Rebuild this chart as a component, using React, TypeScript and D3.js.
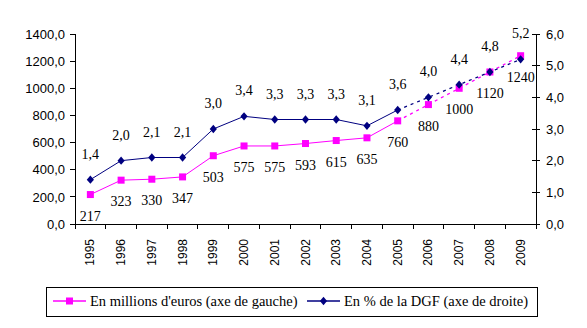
import React from "react";
import * as d3 from "d3";

const years = ["1995","1996","1997","1998","1999","2000","2001","2002","2003","2004","2005","2006","2007","2008","2009"];
const euros = [217,323,330,347,503,575,575,593,615,635,760,880,1000,1120,1240];
const pct = [1.4,2.0,2.1,2.1,3.0,3.4,3.3,3.3,3.3,3.1,3.6,4.0,4.4,4.8,5.2];
const leftTicks = [0,200,400,600,800,1000,1200,1400];
const rightTicks = [0,1,2,3,4,5,6];
const solidUntil = 10; // index of 2005
const legendLabels = ["En millions d'euros (axe de gauche)", "En % de la DGF (axe de droite)"];

const W = 587, H = 328;
const left = 75, right = 536, top = 34, bottom = 224;
const MAG = "#FF00FF", NAVY = "#000080";
const SANS = "Liberation Sans";
const SERIF = "Liberation Serif";

const fmt = (v: number, d: number) => v.toFixed(d).replace(".", ",");

export default function App() {
  const x = d3.scaleBand<string>().domain(years).range([left, right]).paddingInner(0).paddingOuter(0);
  const cx = (i: number) => (x(years[i]) as number) + x.bandwidth() / 2;
  const yL = d3.scaleLinear().domain([0, 1400]).range([bottom, top]);
  const yR = d3.scaleLinear().domain([0, 6]).range([bottom, top]);

  const idx = years.map((_, i) => i);
  const lineL = d3.line<number>().x((i) => cx(i)).y((i) => yL(euros[i]));
  const lineR = d3.line<number>().x((i) => cx(i)).y((i) => yR(pct[i]));
  const solid = idx.filter((i) => i <= solidUntil);
  const dashed = idx.filter((i) => i >= solidUntil);

  const bounds = d3.range(years.length + 1).map((k) => left + k * x.bandwidth());
  const serif = { fontFamily: SERIF, fontSize: "14px" } as React.CSSProperties;
  const legendFont = { fontFamily: SERIF, fontSize: "14.5px" } as React.CSSProperties;
  const sans = (s: number) => ({ fontFamily: SANS, fontSize: s + "px" } as React.CSSProperties);

  return (
    <svg width={W} height={H} style={{ position: "absolute", left: 0, top: 0, background: "#fff" }}>
      <rect x={0} y={0} width={W} height={H} fill="#fff" />
      <line x1={left} y1={top} x2={left} y2={bottom} stroke="#000" strokeWidth={1} shapeRendering="crispEdges" />
      <line x1={right} y1={top} x2={right} y2={bottom} stroke="#000" strokeWidth={1} shapeRendering="crispEdges" />
      <line x1={left} y1={bottom} x2={right} y2={bottom} stroke="#000" strokeWidth={1} shapeRendering="crispEdges" />
      {leftTicks.map((t) => (
        <g key={"l" + t}>
          <line x1={left - 5} x2={left} y1={yL(t)} y2={yL(t)} stroke="#000" shapeRendering="crispEdges" />
          <text x={left - 10} y={yL(t)} dy="0.36em" textAnchor="end" style={sans(13)}>{fmt(t, 1)}</text>
        </g>
      ))}
      {rightTicks.map((t) => (
        <g key={"r" + t}>
          <line x1={right - 4} x2={right + 4} y1={yR(t)} y2={yR(t)} stroke="#000" shapeRendering="crispEdges" />
          <text x={right + 10} y={yR(t)} dy="0.36em" textAnchor="start" style={sans(13)}>{fmt(t, 1)}</text>
        </g>
      ))}
      {bounds.map((b, k) => (
        <line key={"b" + k} x1={b} x2={b} y1={bottom} y2={bottom + 5} stroke="#000" shapeRendering="crispEdges" />
      ))}
      {years.map((yr, i) => (
        <text key={yr} transform={`translate(${cx(i) + 4},${bottom + 15}) rotate(-90)`} textAnchor="end" style={sans(12)}>{yr}</text>
      ))}

      <path d={lineL(solid) || ""} fill="none" stroke={MAG} strokeWidth={1} />
      <path d={lineL(dashed) || ""} fill="none" stroke={MAG} strokeWidth={1.3} strokeDasharray="3,4" />
      <path d={lineR(solid) || ""} fill="none" stroke={NAVY} strokeWidth={1} />
      <path d={lineR(dashed) || ""} fill="none" stroke={NAVY} strokeWidth={1.3} strokeDasharray="3,4" />

      {idx.map((i) => (
        <rect key={"s" + i} x={cx(i) - 3.5} y={yL(euros[i]) - 3.5} width={7} height={7} fill={MAG} />
      ))}
      {idx.map((i) => {
        const px = cx(i), py = yR(pct[i]);
        return <path key={"d" + i} d={`M${px},${py - 4.2}L${px + 3.6},${py}L${px},${py + 4.2}L${px - 3.6},${py}Z`} fill={NAVY} />;
      })}

      {idx.map((i) => (
        <text key={"le" + i} x={cx(i)} y={yL(euros[i]) + 26} textAnchor="middle" style={serif}>{euros[i]}</text>
      ))}
      {idx.map((i) => (
        <text key={"lp" + i} x={cx(i)} y={yR(pct[i]) - 21} textAnchor="middle" style={serif}>{fmt(pct[i], 1)}</text>
      ))}

      <rect x={46.5} y={287.5} width={491} height={29} fill="#fff" stroke="#000" strokeWidth={1} />
      <line x1={53} x2={86} y1={301} y2={301} stroke={MAG} strokeWidth={1.3} />
      <rect x={66} y={297.5} width={7} height={7} fill={MAG} />
      <text x={90} y={306} style={legendFont}>{legendLabels[0]}</text>
      <line x1={307} x2={340} y1={301} y2={301} stroke={NAVY} strokeWidth={1.3} />
      <path d={`M323.5,296.8L327.1,301L323.5,305.2L319.9,301Z`} fill={NAVY} />
      <text x={344} y={306} style={legendFont}>{legendLabels[1]}</text>
    </svg>
  );
}
